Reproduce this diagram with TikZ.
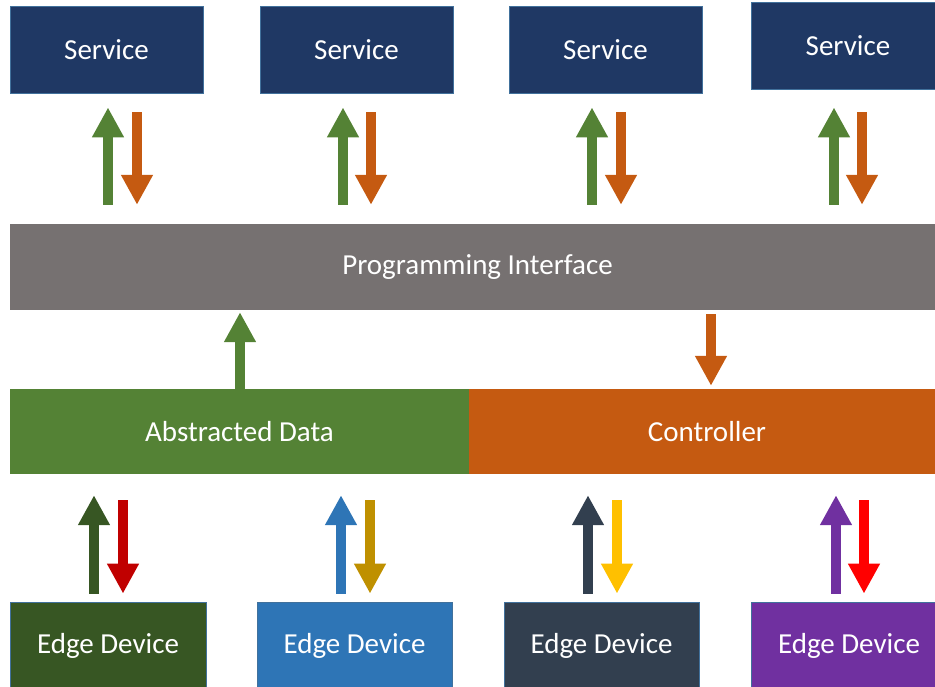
\documentclass[tikz,border=0pt]{standalone}
\usepackage{fontspec}
\setmainfont{Carlito}
\usetikzlibrary{arrows.meta,calc}

\definecolor{navy}{HTML}{1F3864}
\definecolor{navyedge}{HTML}{41719C}
\definecolor{slategray}{HTML}{767171}
\definecolor{leafgreen}{HTML}{548235}
\definecolor{rust}{HTML}{C55A11}
\definecolor{forest}{HTML}{375623}
\definecolor{skyblue}{HTML}{2E75B6}
\definecolor{charcoal}{HTML}{323F4F}
\definecolor{violet}{HTML}{7030A0}
\definecolor{crimson}{HTML}{C00000}
\definecolor{goldenrod}{HTML}{BF9000}
\definecolor{amber}{HTML}{FFC000}
\definecolor{brightred}{HTML}{FF0000}

\tikzset{
  box/.style={rectangle, inner sep=0pt, text=white, draw=navyedge, line width=0.8pt,
    font=\fontsize{29}{33}\selectfont, minimum height=87pt},
  bar/.style={rectangle, inner sep=0pt, text=white, draw=none,
    font=\fontsize{29}{33}\selectfont, minimum height=86pt},
  blockarrow/.style={draw=#1, line width=10pt,
    -{Triangle[width=30pt,length=30pt]}},
}

\begin{document}
\begin{tikzpicture}[x=1pt,y=-1pt]
\useasboundingbox (0,0) rectangle (935,687);
\clip (0,0) rectangle (935,687);

% services
\node[box, fill=navy, minimum width=193pt] (s1) at (106.5,49.5) {Service};
\node[box, fill=navy, minimum width=193pt] (s2) at (356.5,49.5) {Service};
\node[box, fill=navy, minimum width=193pt] (s3) at (605.5,49.5) {Service};
\node[box, fill=navy, minimum width=194pt] (s4) at (848,45.5) {Service};

% interface and middle layer
\node[bar, fill=slategray, minimum width=935pt] (pi) at (477.5,267) {Programming Interface};
\node[bar, fill=leafgreen, minimum width=459pt, minimum height=85pt] (ad) at (239.5,431.5) {Abstracted Data};
\node[bar, fill=rust, minimum width=476pt, minimum height=85pt] (ct) at (707,431.5) {Controller};

% edge devices
\node[box, fill=forest, minimum width=196pt] (e1) at (108,645.5) {Edge Device};
\node[box, fill=skyblue, minimum width=195pt] (e2) at (354.5,645.5) {Edge Device};
\node[box, fill=charcoal, minimum width=195pt] (e3) at (601.5,645.5) {Edge Device};
\node[box, fill=violet, minimum width=196pt] (e4) at (849,645.5) {Edge Device};

% service <-> interface arrows (gap below each service box given per column)
\foreach \s/\u/\d/\g in {s1/108/137/14, s2/343/371/14, s3/592/621/14, s4/834/862/18}{
  \draw[blockarrow=leafgreen] ($(pi.north -| \u,0)+(0,-19)$) -- ($(\s.south -| \u,0)+(0,\g)$);
  \draw[blockarrow=rust] ($(\s.south -| \d,0)+(0,\g+5)$) -- ($(pi.north -| \d,0)+(0,-19)$);
}

% middle layer <-> interface arrows
\draw[blockarrow=leafgreen] (ad.north -| 240,0) -- ($(pi.south -| 240,0)+(0,2)$);
\draw[blockarrow=rust] ($(pi.south -| 711,0)+(0,4)$) -- ($(ct.north -| 711,0)+(0,-3)$);

% edge device <-> middle layer arrows
\foreach \e/\u/\d/\cu/\cd in {e1/94/123/forest/crimson, e2/341/370/skyblue/goldenrod,
                              e3/588/617/charcoal/amber, e4/836/864/violet/brightred}{
  \draw[blockarrow=\cu] ($(\e.north -| \u,0)+(0,-8)$) -- ($(ad.south -| \u,0)+(0,21)$);
  \draw[blockarrow=\cd] ($(ad.south -| \d,0)+(0,26)$) -- ($(\e.north -| \d,0)+(0,-8)$);
}
\end{tikzpicture}
\end{document}
